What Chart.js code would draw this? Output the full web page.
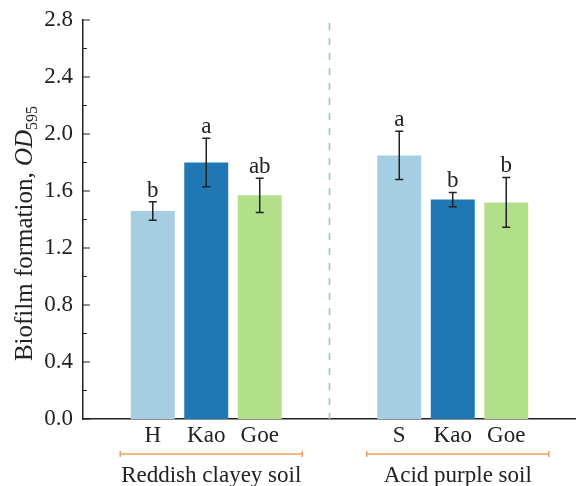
<!DOCTYPE html>
<html>
<head>
<meta charset="utf-8">
<script src="https://cdn.jsdelivr.net/npm/chart.js@4"></script>
<style>
  html, body { margin: 0; padding: 0; background: #fff; overflow: hidden; }
  #wrap { width: 576px; height: 486px; }
</style>
</head>
<body>
<div id="wrap"><canvas id="biofilmChart"></canvas></div>
<script>
// --- DATA ---
const groups = ['Reddish clayey soil', 'Acid purple soil'];
const seriesNames = ['H / S', 'Kao', 'Goe'];
const barLabels = [['H', 'S'], ['Kao', 'Kao'], ['Goe', 'Goe']];
const firstMean = [1.46, 1.85];
const kaoMean = [1.80, 1.54];
const goeMean = [1.57, 1.52];
const firstErr = [0.065, 0.17];
const kaoErr = [0.17, 0.05];
const goeErr = [0.12, 0.175];
const firstSig = ['b', 'a'];
const kaoSig = ['a', 'b'];
const goeSig = ['ab', 'b'];
const yTicks = [0.0, 0.4, 0.8, 1.2, 1.6, 2.0, 2.4, 2.8];

const means = [firstMean, kaoMean, goeMean];
const errs = [firstErr, kaoErr, goeErr];
const sigs = [firstSig, kaoSig, goeSig];
const colors = ['#a6cee3', '#1f78b4', '#b2df8a'];

const SERIF = '"Liberation Serif", "DejaVu Serif", serif';
const INK = '#222';

// error bars, letters, bar labels, brackets, divider, axis ticks, y title
const extras = {
    id: 'extras',
    afterDatasetsDraw(chart) {
        const ctx = chart.ctx;
        const x = chart.scales.x, y = chart.scales.y;
        const area = chart.chartArea;
        ctx.save();

        // dashed divider between soils
        const midX = (x.getPixelForValue(0) + x.getPixelForValue(1)) / 2;
        ctx.strokeStyle = '#92c5e0';
        ctx.lineWidth = 1.6;
        ctx.setLineDash([7, 8]);
        ctx.beginPath();
        ctx.moveTo(midX, area.top + 3);
        ctx.lineTo(midX, area.bottom);
        ctx.stroke();
        ctx.setLineDash([]);

        // error bars + significance letters + bar labels
        ctx.font = '23px ' + SERIF;
        ctx.textAlign = 'center';
        ctx.textBaseline = 'alphabetic';
        means.forEach((vals, d) => {
            const meta = chart.getDatasetMeta(d);
            meta.data.forEach((bar, i) => {
                const bx = bar.x;
                const top = y.getPixelForValue(vals[i] + errs[d][i]);
                const bot = y.getPixelForValue(vals[i] - errs[d][i]);
                ctx.strokeStyle = INK;
                ctx.lineWidth = 1.5;
                ctx.beginPath();
                ctx.moveTo(bx, top); ctx.lineTo(bx, bot);
                ctx.moveTo(bx - 4, top); ctx.lineTo(bx + 4, top);
                ctx.moveTo(bx - 4, bot); ctx.lineTo(bx + 4, bot);
                ctx.stroke();
                ctx.fillStyle = INK;
                ctx.fillText(sigs[d][i], bx, top - 5);
                ctx.fillText(barLabels[d][i], bx, area.bottom + 23);
            });
        });

        // group brackets and names
        groups.forEach((g, i) => {
            const cx = x.getPixelForValue(i) + 5;
            const by = area.bottom + 35;
            ctx.strokeStyle = '#f0a060';
            ctx.lineWidth = 1.5;
            ctx.beginPath();
            ctx.moveTo(cx - 91, by); ctx.lineTo(cx + 91, by);
            ctx.moveTo(cx - 91, by - 3); ctx.lineTo(cx - 91, by + 3);
            ctx.moveTo(cx + 91, by - 3); ctx.lineTo(cx + 91, by + 3);
            ctx.stroke();
            ctx.fillStyle = INK;
            ctx.fillText(g, cx, area.bottom + 63);
        });

        // inward y ticks (major + minor)
        ctx.strokeStyle = INK;
        ctx.lineWidth = 1.2;
        ctx.beginPath();
        yTicks.forEach((t, k) => {
            const py = y.getPixelForValue(t);
            ctx.moveTo(area.left, py); ctx.lineTo(area.left + 7, py);
            if (k < yTicks.length - 1) {
                const pm = y.getPixelForValue(t + 0.2);
                ctx.moveTo(area.left, pm); ctx.lineTo(area.left + 4, pm);
            }
        });
        ctx.stroke();

        // y title: Biofilm formation, OD595
        const parts = [
            { t: 'Biofilm formation, ', f: '25px ' + SERIF, dy: 0 },
            { t: 'OD', f: 'italic 25px ' + SERIF, dy: 0 },
            { t: '595', f: '16px ' + SERIF, dy: 5 }
        ];
        let total = 0;
        parts.forEach(p => { ctx.font = p.f; p.w = ctx.measureText(p.t).width; total += p.w; });
        ctx.translate(32, (area.top + area.bottom) / 2 + 14);
        ctx.rotate(-Math.PI / 2);
        ctx.textAlign = 'left';
        let cur = -total / 2;
        parts.forEach(p => {
            ctx.font = p.f;
            ctx.fillText(p.t, cur, p.dy);
            cur += p.w;
        });
        ctx.restore();
    }
};

new Chart(document.getElementById('biofilmChart'), {
    type: 'bar',
    data: {
        labels: groups,
        datasets: seriesNames.map((name, d) => ({
            label: name,
            data: means[d],
            backgroundColor: colors[d],
            borderWidth: 0,
            categoryPercentage: 0.651,
            barPercentage: 0.822
        }))
    },
    options: {
        responsive: true,
        maintainAspectRatio: false,
        animation: false,
        layout: { padding: { top: 20, right: 0, bottom: 67, left: 0 } },
        plugins: {
            legend: { display: false },
            tooltip: { enabled: false }
        },
        scales: {
            x: {
                grid: { display: false, drawTicks: false },
                border: { display: true, color: INK, width: 1.5 },
                ticks: { display: false },
                afterFit: s => { s.height = 0; }
            },
            y: {
                min: 0,
                max: 2.8,
                afterBuildTicks: s => { s.ticks = yTicks.map(v => ({ value: v })); },
                grid: { display: false, drawTicks: false },
                border: { display: true, color: INK, width: 1.5 },
                ticks: {
                    padding: 10,
                    color: INK,
                    font: { family: SERIF, size: 23 },
                    callback: v => Number(v).toFixed(1)
                },
                afterFit: s => { s.width = 83; s.paddingTop = 0; s.paddingBottom = 0; }
            }
        }
    },
    plugins: [extras]
});
</script>
</body>
</html>
